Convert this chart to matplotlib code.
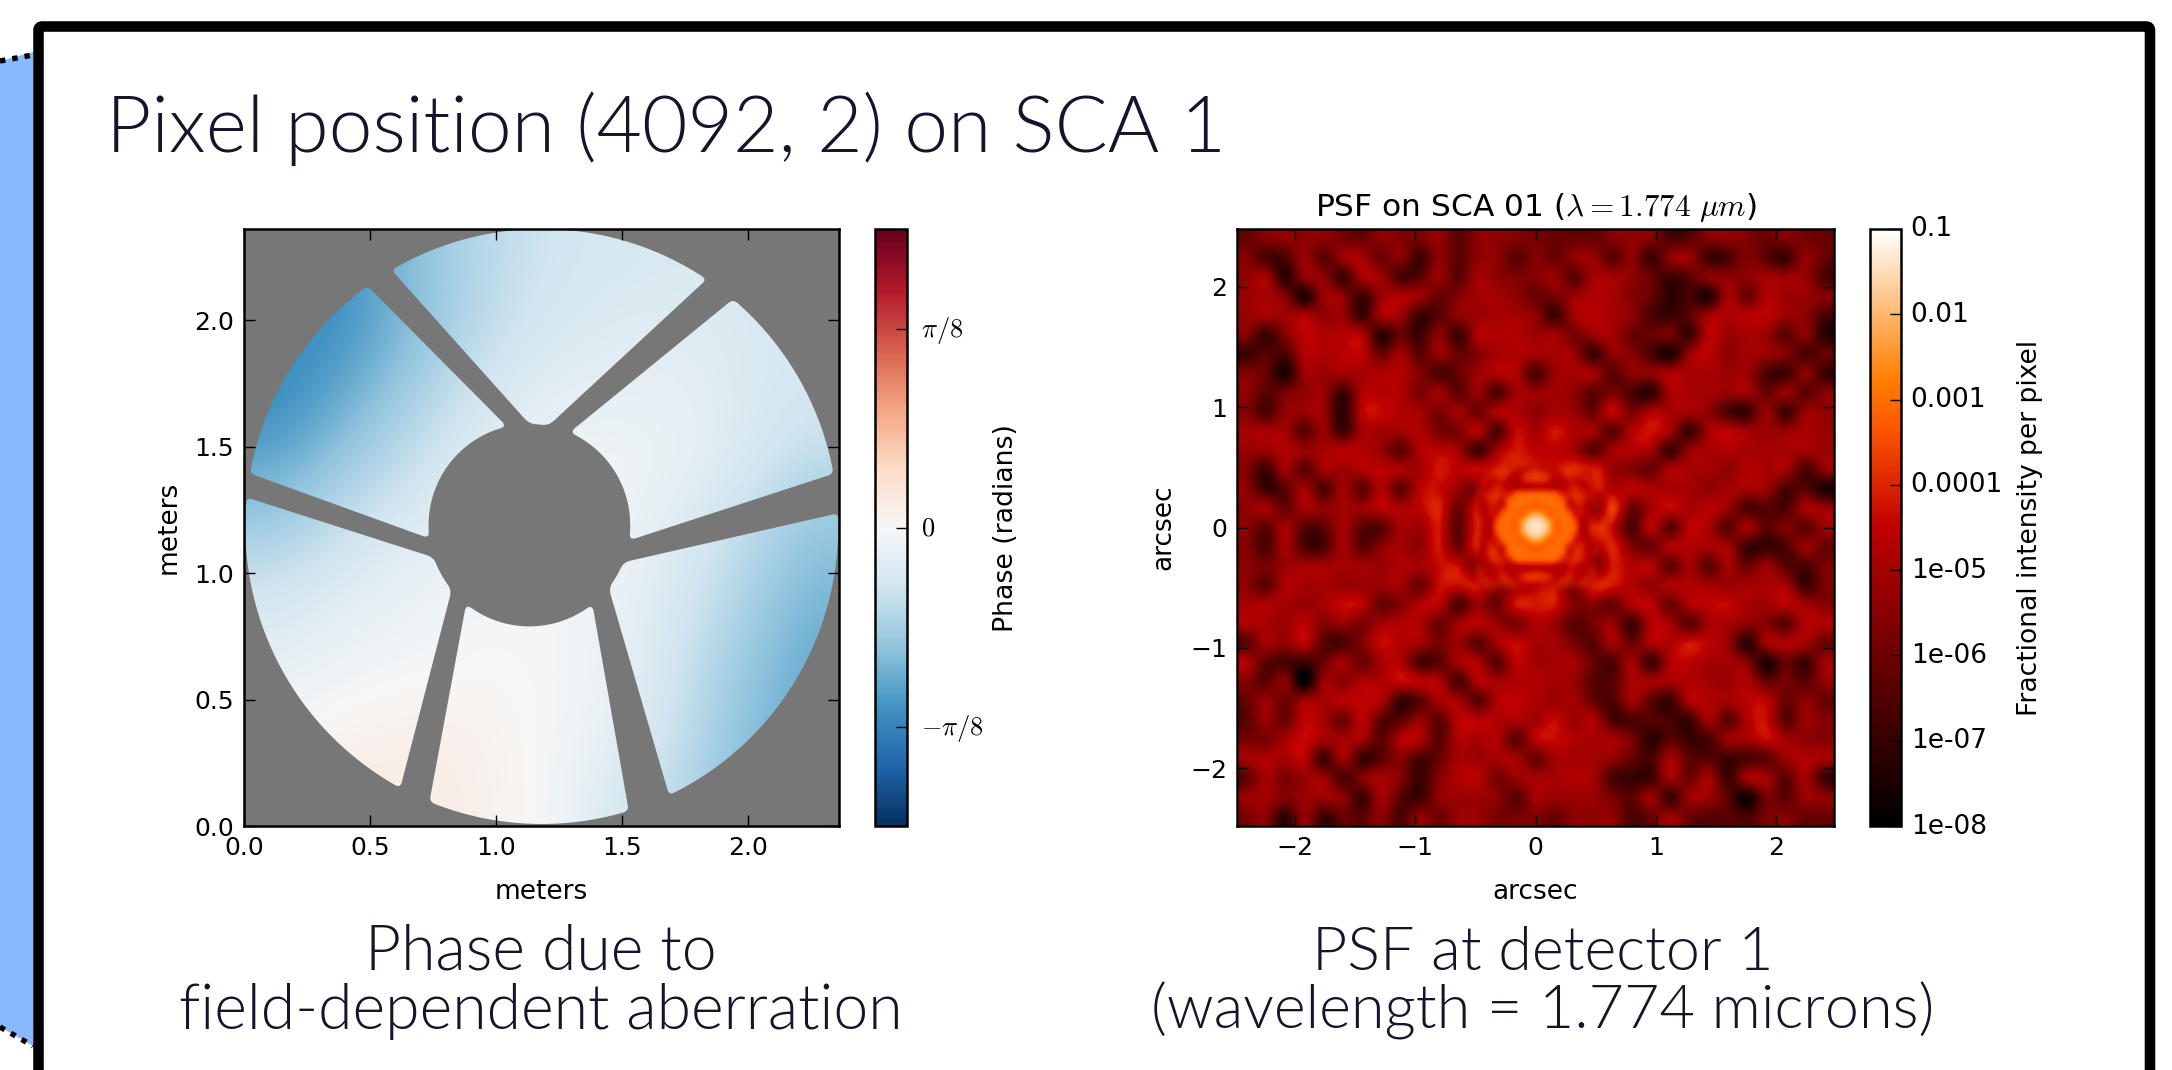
import numpy as np
import matplotlib
matplotlib.use('Agg')
import matplotlib.pyplot as plt
from matplotlib.colors import LogNorm, Normalize
from matplotlib.cm import ScalarMappable
from matplotlib.patches import FancyBboxPatch, PathPatch, Polygon
from matplotlib.path import Path
from matplotlib.transforms import ScaledTranslation

plt.rcParams['font.family'] = 'DejaVu Sans'
plt.rcParams['mathtext.fontset'] = 'cm'

# slide text
slide_title = 'Pixel position (4092, 2) on SCA 1'
left_caption = ['Phase due to', 'field-dependent aberration']
right_caption = ['PSF at detector 1', '(wavelength = 1.774 microns)']
caption_font = 'Lato'

# pupil: circle, obstruction and the four corners of each mirror segment (meters)
pupil_size = 2.36
outer_center = (1.181, 1.184)
outer_radius = 1.176
inner_center = (1.132, 1.189)
inner_radius = 0.40
segment_a = [(0.588, 2.193), (1.835, 2.161), (1.208, 1.586), (1.132, 1.592)]
segment_b = [(1.940, 2.083), (2.342, 1.393), (1.548, 1.126), (1.299, 1.573)]
segment_c = [(2.353, 1.236), (1.686, 0.122), (1.451, 0.938), (1.510, 1.040)]
segment_d = [(1.526, 0.060), (0.737, 0.099), (0.870, 0.864), (1.396, 0.859)]
segment_e = [(0.620, 0.151), (0.008, 1.299), (0.748, 1.060), (0.819, 0.930)]
segment_f = [(0.027, 1.393), (0.489, 2.135), (1.040, 1.592), (0.714, 1.134)]

# phase in radians, top row first
phase_rows = [
    [-.40, -.36, -.25, -.17, -.12, -.10, -.09, -.09, -.10],
    [-.38, -.36, -.26, -.16, -.10, -.075, -.07, -.085, -.10],
    [-.38, -.30, -.20, -.11, -.06, -.05, -.05, -.08, -.11],
    [-.31, -.22, -.14, -.07, -.03, -.02, -.04, -.08, -.15],
    [-.21, -.13, -.08, -.04, -.02, -.02, -.07, -.14, -.23],
    [-.11, -.07, -.04, -.02, -.01, -.03, -.09, -.17, -.27],
    [-.06, -.03, -.015, 0, -.005, -.03, -.11, -.21, -.30],
    [-.01, .02, .03, .03, -.005, -.04, -.12, -.24, -.30],
    [.03, .04, .04, .035, 0, -.09, -.15, -.25, -.30],
]
phase_ticks = [-np.pi / 8, 0, np.pi / 8]
phase_tick_labels = [r'$-\pi/8$', r'$0$', r'$\pi/8$']
phase_limit = 3 * np.pi / 16

# PSF, log10(intensity) * 10, top row first
psf_half_width = 2.48
psf_rows = [
    [-60,-56,-54,-54,-54,-58,-60,-54,-56,-58,-52,-62,-54,-54,-56,-58,-60,-60,-60,-56,-54,-56,-64,-62,-56,-54,-56,-60,-56,-58,-60],
    [-56,-64,-64,-52,-62,-52,-50,-60,-54,-66,-54,-62,-54,-54,-62,-56,-60,-54,-52,-62,-54,-66,-54,-52,-66,-64,-56,-62,-66,-54,-60],
    [-54,-50,-68,-54,-54,-66,-50,-52,-64,-62,-52,-62,-50,-54,-56,-56,-52,-62,-50,-50,-54,-60,-66,-62,-54,-54,-54,-50,-52,-52,-64],
    [-52,-50,-56,-70,-52,-54,-66,-52,-48,-52,-60,-56,-50,-50,-54,-60,-58,-52,-48,-50,-56,-60,-68,-64,-70,-50,-60,-48,-52,-52,-56],
    [-52,-50,-52,-48,-54,-52,-66,-50,-52,-66,-62,-54,-52,-50,-50,-54,-66,-50,-47,-50,-54,-64,-66,-62,-50,-48,-47,-46,-52,-54,-64],
    [-56,-66,-56,-46,-48,-47,-48,-68,-60,-66,-54,-66,-48,-48,-47,-52,-50,-58,-52,-50,-60,-60,-58,-66,-46,-52,-50,-52,-62,-54,-68],
    [-66,-62,-64,-48,-48,-47,-46,-60,-50,-62,-52,-60,-56,-50,-48,-50,-50,-52,-66,-54,-56,-64,-70,-52,-46,-54,-50,-52,-56,-64,-60],
    [-56,-60,-70,-52,-52,-50,-50,-48,-48,-56,-64,-60,-52,-48,-48,-64,-52,-50,-50,-62,-54,-54,-48,-50,-50,-52,-52,-64,-66,-54,-66],
    [-54,-62,-58,-54,-52,-66,-48,-48,-48,-58,-50,-62,-52,-64,-50,-52,-50,-54,-62,-58,-64,-68,-50,-50,-50,-52,-50,-60,-52,-62,-56],
    [-56,-64,-54,-52,-52,-68,-46,-44,-48,-50,-58,-50,-60,-48,-48,-54,-50,-52,-60,-44,-58,-48,-50,-50,-54,-64,-66,-52,-66,-52,-54],
    [-50,-50,-50,-62,-52,-66,-50,-50,-50,-48,-58,-58,-46,-64,-44,-50,-42,-48,-50,-62,-48,-43,-50,-66,-50,-46,-50,-52,-52,-50,-52],
    [-52,-52,-48,-52,-50,-46,-48,-52,-62,-48,-46,-50,-66,-50,-42,-46,-46,-50,-62,-50,-48,-50,-66,-52,-50,-48,-50,-50,-50,-50,-52],
    [-56,-66,-50,-62,-50,-52,-48,-46,-48,-50,-42,-46,-43,-42,-40,-40,-42,-40,-38,-52,-56,-60,-48,-50,-50,-54,-48,-50,-50,-64,-54],
    [-54,-66,-62,-50,-64,-50,-62,-48,-62,-46,-44,-52,-60,-40,-50,-30,-32,-56,-40,-48,-46,-48,-50,-50,-54,-50,-50,-52,-64,-62,-70],
    [-54,-50,-60,-50,-54,-50,-52,-46,-48,-46,-40,-60,-42,-50,-34,-20,-34,-44,-60,-36,-60,-50,-44,-50,-46,-52,-64,-62,-64,-50,-52],
    [-54,-62,-50,-62,-62,-50,-62,-62,-50,-52,-42,-62,-40,-60,-30,-15,-30,-58,-38,-44,-64,-46,-62,-46,-50,-62,-50,-62,-56,-62,-52],
    [-56,-64,-50,-64,-64,-50,-62,-54,-50,-54,-42,-60,-40,-58,-28,-30,-28,-40,-50,-40,-56,-60,-48,-48,-50,-50,-66,-66,-64,-52,-60],
    [-54,-58,-52,-50,-50,-50,-50,-52,-48,-50,-44,-44,-60,-54,-36,-36,-60,-44,-60,-42,-48,-46,-62,-50,-62,-50,-60,-52,-62,-64,-58],
    [-54,-62,-48,-50,-50,-52,-52,-52,-50,-60,-44,-44,-42,-56,-50,-44,-44,-60,-40,-42,-48,-54,-48,-48,-50,-52,-50,-50,-50,-66,-58],
    [-50,-48,-50,-52,-50,-44,-46,-60,-56,-48,-46,-64,-52,-60,-42,-42,-42,-56,-56,-60,-48,-46,-60,-48,-46,-44,-50,-50,-46,-50,-56],
    [-48,-50,-52,-46,-56,-52,-58,-50,-48,-48,-60,-50,-46,-52,-58,-48,-52,-62,-58,-52,-66,-48,-50,-62,-50,-50,-54,-56,-62,-48,-48],
    [-62,-50,-54,-46,-62,-64,-56,-44,-48,-50,-58,-52,-62,-50,-44,-50,-50,-58,-62,-50,-60,-48,-48,-42,-46,-52,-68,-50,-48,-50,-60],
    [-48,-62,-64,-66,-60,-50,-60,-50,-48,-64,-62,-50,-48,-62,-46,-50,-50,-50,-60,-64,-50,-66,-48,-46,-50,-50,-56,-70,-60,-66,-52],
    [-56,-62,-54,-74,-52,-56,-48,-48,-44,-46,-48,-64,-48,-50,-48,-48,-50,-52,-62,-62,-50,-50,-50,-48,-50,-52,-48,-60,-58,-62,-54],
    [-60,-52,-60,-50,-50,-46,-46,-48,-66,-62,-50,-50,-62,-48,-46,-48,-52,-50,-60,-64,-50,-62,-66,-48,-48,-50,-46,-46,-60,-54,-60],
    [-62,-52,-60,-46,-50,-60,-46,-62,-62,-52,-62,-46,-46,-48,-48,-50,-44,-52,-48,-64,-64,-62,-64,-66,-50,-62,-48,-44,-62,-52,-56],
    [-58,-58,-50,-44,-50,-50,-50,-62,-48,-48,-62,-48,-50,-48,-62,-46,-44,-48,-50,-50,-58,-68,-62,-66,-64,-52,-50,-44,-50,-54,-56],
    [-50,-48,-50,-46,-66,-50,-66,-62,-56,-64,-60,-50,-52,-50,-50,-60,-50,-50,-50,-54,-60,-64,-50,-62,-62,-66,-64,-62,-52,-48,-50],
    [-62,-50,-58,-52,-52,-64,-56,-50,-56,-66,-56,-48,-46,-58,-52,-50,-50,-48,-50,-64,-66,-66,-50,-60,-50,-66,-50,-50,-62,-50,-66],
    [-52,-50,-56,-52,-52,-54,-66,-50,-62,-66,-54,-52,-52,-54,-62,-50,-52,-52,-52,-58,-62,-52,-66,-52,-52,-62,-72,-58,-62,-52,-54],
    [-58,-54,-68,-52,-66,-60,-62,-54,-64,-54,-60,-52,-52,-58,-58,-56,-60,-54,-54,-54,-64,-60,-52,-60,-62,-62,-64,-58,-56,-60,-60],
]
# finer reading of the core of the PSF, same units
psf_core_half_width = 0.58
psf_core_rows = [
    [-44,-42,-46,-54,-46,-42,-44,-46,-48,-50,-56,-50,-48,-46,-44,-42,-44,-46,-52,-46,-44],
    [-42,-44,-50,-46,-40,-38,-38,-44,-52,-46,-44,-46,-52,-44,-38,-37,-38,-44,-50,-44,-42],
    [-42,-48,-44,-42,-38,-37,-40,-50,-42,-38,-37,-38,-42,-50,-40,-37,-38,-42,-44,-48,-42],
    [-46,-48,-42,-44,-46,-42,-48,-50,-40,-37,-37,-37,-40,-50,-48,-42,-46,-44,-42,-48,-46],
    [-50,-44,-44,-48,-40,-44,-48,-50,-50,-50,-50,-50,-50,-50,-48,-44,-40,-48,-44,-46,-50],
    [-48,-42,-44,-40,-38,-40,-44,-31,-30,-30,-30,-30,-30,-31,-44,-40,-38,-40,-44,-42,-48],
    [-46,-40,-46,-40,-38,-47,-30,-30,-30,-30,-30,-30,-30,-30,-30,-47,-38,-40,-46,-40,-46],
    [-44,-40,-50,-42,-44,-46,-30,-30,-30,-33,-36,-33,-30,-30,-30,-46,-44,-42,-50,-40,-44],
    [-44,-42,-52,-40,-47,-30,-30,-30,-36,-26,-21,-26,-36,-30,-30,-30,-47,-40,-52,-42,-44],
    [-50,-40,-42,-50,-36,-30,-30,-33,-24,-16,-14,-16,-24,-33,-30,-30,-36,-50,-42,-40,-50],
    [-52,-40,-42,-54,-31,-30,-30,-36,-20,-14,-13,-14,-20,-36,-30,-30,-31,-54,-42,-40,-52],
    [-50,-40,-44,-50,-36,-30,-30,-33,-24,-16,-14,-16,-24,-33,-30,-30,-36,-50,-42,-40,-50],
    [-44,-42,-50,-42,-47,-30,-30,-30,-36,-26,-21,-26,-36,-30,-30,-30,-47,-42,-50,-42,-44],
    [-42,-40,-50,-38,-42,-46,-30,-30,-30,-33,-36,-33,-30,-30,-30,-46,-40,-40,-50,-40,-42],
    [-44,-40,-48,-38,-37,-47,-30,-30,-30,-30,-30,-30,-30,-30,-30,-47,-37,-40,-46,-40,-44],
    [-50,-42,-50,-42,-38,-42,-44,-31,-30,-30,-30,-30,-30,-31,-44,-40,-38,-42,-50,-42,-50],
    [-46,-40,-44,-48,-44,-44,-48,-50,-50,-50,-50,-50,-50,-50,-48,-44,-44,-48,-44,-40,-46],
    [-46,-40,-42,-50,-46,-40,-48,-46,-40,-38,-37,-38,-40,-46,-48,-40,-46,-50,-42,-40,-46],
    [-48,-42,-40,-40,-46,-38,-38,-46,-40,-37,-37,-37,-40,-46,-38,-38,-46,-40,-40,-42,-48],
    [-44,-46,-40,-40,-40,-42,-38,-38,-46,-48,-50,-48,-46,-38,-38,-42,-40,-40,-40,-46,-44],
    [-42,-44,-48,-42,-40,-46,-46,-42,-42,-50,-56,-50,-42,-42,-46,-46,-42,-48,-42,-44,-42],
]
psf_ticks = [1e-8, 1e-7, 1e-6, 1e-5, 1e-4, 1e-3, 1e-2, 1e-1]
psf_tick_labels = ['1e-08', '1e-07', '1e-06', '1e-05', '0.0001', '0.001', '0.01', '0.1']
meter_ticks = [0.0, 0.5, 1.0, 1.5, 2.0]
arcsec_ticks = [-2, -1, 0, 1, 2]

W, H = 2172, 1070
TEXT = '#14142a'


def axes_px(x0, y0, x1, y1):
    return fig.add_axes([x0 / W, 1 - y1 / H, (x1 - x0) / W, (y1 - y0) / H])


def arc(center, p, q):
    # start angle and signed sweep, the short way round from p to q
    a0 = np.arctan2(p[1] - center[1], p[0] - center[0])
    a1 = np.arctan2(q[1] - center[1], q[0] - center[0])
    d = (a1 - a0 + np.pi) % (2 * np.pi) - np.pi
    return a0, d


def on_circle(center, radius, angle):
    return (center[0] + radius * np.cos(angle), center[1] + radius * np.sin(angle))


def toward(p, q, dist):
    p, q = np.array(p), np.array(q)
    return tuple(p + (q - p) / np.linalg.norm(q - p) * dist)


def segment_path(corners, r_out=0.022, r_in=0.028):
    a, b, c, d = corners
    a0, da = arc(outer_center, a, b)
    c0, dc = arc(inner_center, c, d)
    ca, cb = on_circle(outer_center, outer_radius, a0), on_circle(outer_center, outer_radius, a0 + da)
    cc, cd = on_circle(inner_center, inner_radius, c0), on_circle(inner_center, inner_radius, c0 + dc)
    trim_o = np.sign(da) * r_out / outer_radius
    trim_i = np.sign(dc) * r_in / inner_radius
    verts, codes = [], []
    for t in np.linspace(a0 + trim_o, a0 + da - trim_o, 60):
        verts.append(on_circle(outer_center, outer_radius, t))
        codes.append(Path.LINETO)
    codes[0] = Path.MOVETO
    verts += [cb, toward(cb, cc, r_out), toward(cc, cb, r_in), cc]
    codes += [Path.CURVE3, Path.CURVE3, Path.LINETO, Path.CURVE3]
    arc_pts = [on_circle(inner_center, inner_radius, t) for t in np.linspace(c0 + trim_i, c0 + dc - trim_i, 30)]
    verts.append(arc_pts[0])
    codes.append(Path.CURVE3)
    verts += arc_pts[1:]
    codes += [Path.LINETO] * (len(arc_pts) - 1)
    verts += [cd, toward(cd, ca, r_in), toward(ca, cd, r_out), ca, verts[0]]
    codes += [Path.CURVE3, Path.CURVE3, Path.LINETO, Path.CURVE3, Path.CURVE3]
    return Path(verts, codes)


fig = plt.figure(figsize=(W / 100, H / 100), dpi=100, facecolor='white')

# the slide behind the plots, in pixels
bg = fig.add_axes([0, 0, 1, 1])
bg.set_xlim(0, W)
bg.set_ylim(H, 0)
bg.axis('off')
bg.add_patch(Polygon([(0, 61), (33, 52), (33, 1046), (0, 1027)], facecolor='#8ab8fd', edgecolor='none'))
bg.plot([0, 33], [61, 55], color='black', lw=3.9, ls=(0, (1, 1.3)))
bg.plot([0, 33], [1027, 1046], color='black', lw=3.9, ls=(0, (1, 1.3)))
bg.add_patch(FancyBboxPatch((38.5, 26.5), 2111.5, 1200, boxstyle='round,pad=0,rounding_size=4',
                            facecolor='white', edgecolor='black', lw=7.6))
bg.text(106, 152, slide_title, fontsize=56.5, family=caption_font, weight=300, color=TEXT,
        ha='left', va='baseline')
for cx, lines, size in [(541, left_caption, 45), (1543, right_caption, 44)]:
    bg.text(cx, 970, lines[0], fontsize=size, family=caption_font, weight=300, color=TEXT, ha='center', va='baseline')
    bg.text(cx, 1029, lines[1], fontsize=size, family=caption_font, weight=300, color=TEXT, ha='center', va='baseline')

# phase panel
ax1 = axes_px(244, 229, 839, 826)
ax1.set_facecolor('#777777')
norm1 = Normalize(-phase_limit, phase_limit)
im1 = ax1.imshow(np.array(phase_rows), cmap='RdBu_r', norm=norm1, interpolation='bicubic',
                 extent=[0, pupil_size, 0, pupil_size], aspect='auto')
pupil = Path.make_compound_path(*[segment_path(s) for s in
                                  [segment_a, segment_b, segment_c, segment_d, segment_e, segment_f]])
clip = PathPatch(pupil, transform=ax1.transData, facecolor='none', edgecolor='none')
ax1.add_patch(clip)
im1.set_clip_path(clip)
ax1.set_xticks(meter_ticks)
ax1.set_yticks(meter_ticks)
ax1.set_xlim(0, pupil_size)
ax1.set_ylim(0, pupil_size)
ax1.set_xlabel('meters', fontsize=19, labelpad=14)
ax1.set_ylabel('meters', fontsize=19, labelpad=9)

# PSF panel, drawn from the log values so the interpolation happens in log space
ax2 = axes_px(1237, 229, 1834, 826)
norm2 = LogNorm(1e-8, 0.1)
norm2_log = Normalize(-8, -1)
e = psf_half_width
c = psf_core_half_width
psf_log = np.array(psf_rows) / 10
# the black squiggles come out too shallow at this grid spacing, so push the dark readings down a bit
psf_log = np.where(psf_log < -5.8, psf_log - 0.4 * (-5.8 - psf_log), psf_log)
ax2.imshow(psf_log, cmap='gist_heat', norm=norm2_log, interpolation='spline16',
           extent=[-e, e, -e, e], aspect='auto')
# the core fades out at its edge so the two grids join
core_pos = np.abs(np.linspace(-c, c, len(psf_core_rows)))
core_alpha = np.clip((c - np.maximum.outer(core_pos, core_pos)) / 0.14, 0, 1)
ax2.imshow(np.array(psf_core_rows) / 10, cmap='gist_heat', norm=norm2_log, interpolation='bicubic',
           extent=[-c, c, -c, c], aspect='auto', alpha=core_alpha)
ax2.set_xlim(-e, e)
ax2.set_ylim(-e, e)
ax2.set_xticks(arcsec_ticks)
ax2.set_yticks(arcsec_ticks)
ax2.set_xlabel('arcsec', fontsize=19, labelpad=14)
ax2.set_ylabel('arcsec', fontsize=19, labelpad=10)
ax2.set_title(r'PSF on SCA 01 ($\lambda = 1.774\ \mu m$)', fontsize=22.5, pad=9)

for ax in (ax1, ax2):
    ax.tick_params(direction='in', top=True, right=True, length=8, width=1, labelsize=18, pad=7)
    for s in ax.spines.values():
        s.set_linewidth(1.8)

# colorbars
cax1 = axes_px(875, 229, 907, 826)
cb1 = fig.colorbar(ScalarMappable(norm=norm1, cmap='RdBu_r'), cax=cax1)
cb1.set_ticks(phase_ticks)
cb1.set_ticklabels(phase_tick_labels)
cb1.ax.tick_params(direction='in', length=8, width=1, labelsize=19, pad=10)
cb1.set_label('Phase (radians)', fontsize=19.3, labelpad=7)
cb1.outline.set_linewidth(1.8)

cax2 = axes_px(1870, 229, 1901, 826)
cb2 = fig.colorbar(ScalarMappable(norm=norm2, cmap='gist_heat'), cax=cax2)
cb2.set_ticks(psf_ticks)
cb2.set_ticklabels(psf_tick_labels)
cb2.ax.minorticks_off()
cb2.ax.tick_params(direction='in', length=8, width=1, labelsize=19, pad=7)
cb2.set_label('Fractional intensity per pixel', fontsize=19.1, labelpad=10)
cb2.outline.set_linewidth(1.8)

for cb in (cb1, cb2):
    for lbl in cb.ax.get_yticklabels():
        lbl.set_transform(lbl.get_transform() + ScaledTranslation(0, 1.8 / 72, fig.dpi_scale_trans))

fig.savefig('out.png', dpi=100)
